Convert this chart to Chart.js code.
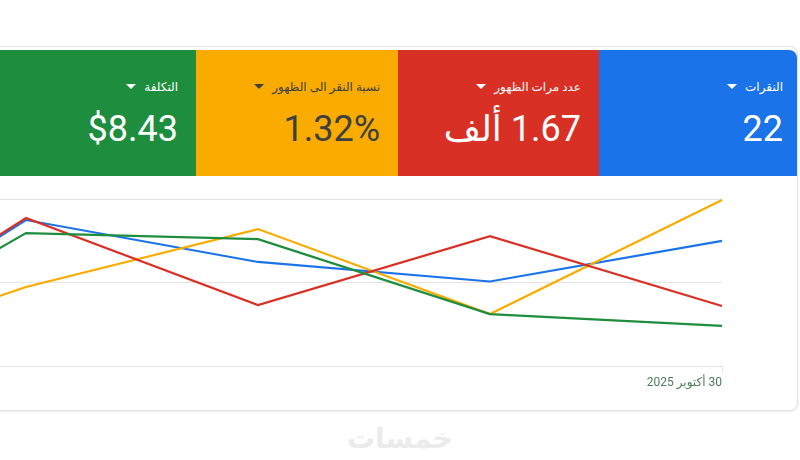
<!DOCTYPE html>
<html>
<head>
<meta charset="utf-8">
<script src="https://cdn.jsdelivr.net/npm/chart.js@4"></script>
<style>
  html, body { margin: 0; padding: 0; background: #fff; }
  body { width: 800px; height: 460px; position: relative; overflow: hidden; font-family: Roboto, "DejaVu Sans", sans-serif; }
  #panel {
    position: absolute; left: -10px; top: 46px; width: 808px; height: 365px;
    box-sizing: border-box; border: 1px solid #e3e4e6; border-radius: 8px;
    box-shadow: 0 1px 2px rgba(60,64,67,0.12);
    overflow: hidden; background: #fff;
  }
  .card { position: absolute; top: 3px; height: 126px; color: #fff; }
  .card .title {
    position: absolute; right: 18px; top: 29px; line-height: 16px; font-size: 12px;
    white-space: nowrap; direction: rtl;
  }
  .card .title .arrow {
    display: inline-block; width: 0; height: 0; margin-right: 8px; vertical-align: 2px;
    border-left: 5px solid transparent; border-right: 5px solid transparent; border-top: 5px solid currentColor;
  }
  .card .value {
    position: absolute; right: 18px; top: 58px; line-height: 42px; font-size: 36px;
    white-space: nowrap; direction: rtl;
  }
  .card.last .title, .card.last .value { right: 14px; }
  #mark {
    position: absolute; left: 0; width: 800px; top: 422px; text-align: center;
    font-family: "DejaVu Sans", sans-serif; font-size: 28px; font-weight: bold; color: #ebebeb;
  }
</style>
</head>
<body>
<div id="panel">
  <div class="card" style="left:0; width:205px; background:#1e8e3e;">
    <div class="title">التكلفة<span class="arrow"></span></div>
    <div class="value">$8.43</div>
  </div>
  <div class="card" style="left:205px; width:202px; background:#f9ab00; color:#3c4043;">
    <div class="title">نسبة النقر الى الظهور<span class="arrow"></span></div>
    <div class="value">1.32%</div>
  </div>
  <div class="card" style="left:407px; width:201px; background:#d93025;">
    <div class="title">عدد مرات الظهور<span class="arrow"></span></div>
    <div class="value">1.67 ألف</div>
  </div>
  <div class="card last" style="left:608px; width:198px; background:#1a73e8; border-top-right-radius:8px;">
    <div class="title">النقرات<span class="arrow"></span></div>
    <div class="value">22</div>
  </div>
</div>
<canvas id="trend" dir="rtl" width="960" height="210" style="position:absolute; left:-226px; top:180px;"></canvas>
<div id="mark" dir="rtl">خمسات</div>

<script>
// days shown on the x axis (only the last one gets a label)
const days = ["26 أكتوبر 2025", "27 أكتوبر 2025", "28 أكتوبر 2025", "29 أكتوبر 2025", "30 أكتوبر 2025"];

// each metric as a percent of its own axis height
const clicks      = [0, 87.4, 62.3, 50.6, 74.9];
const impressions = [0, 88.6, 36.5, 77.8, 35.9];
const ctr         = [0, 47.3, 82.0, 31.1, 99.4];
const cost        = [0, 79.6, 76.0, 31.1, 24.0];

const yTicks = [0, 50, 100];

const GRID = "#e3e3e3";

function line(label, data, color) {
  return {
    label: label,
    data: data,
    borderColor: color,
    backgroundColor: color,
    borderWidth: 2.2,
    pointRadius: 0,
    tension: 0,
    fill: false
  };
}

const ctx = document.getElementById("trend").getContext("2d");
new Chart(ctx, {
  type: "line",
  data: {
    labels: days,
    datasets: [
      line("التكلفة", cost, "#1e8e3e"),
      line("عدد مرات الظهور", impressions, "#d93025"),
      line("نسبة النقر الى الظهور", ctr, "#f9ab00"),
      line("النقرات", clicks, "#1a73e8")
    ]
  },
  options: {
    responsive: false,
    animation: false,
    events: [],
    layout: { padding: { left: 20, right: 12, top: 19, bottom: 0 } },
    plugins: {
      legend: { display: false },
      tooltip: { enabled: false }
    },
    scales: {
      x: {
        offset: false,
        border: { display: false },
        grid: {
          drawOnChartArea: false,
          drawTicks: true,
          tickLength: 7,
          tickColor: function(c) {
            return c.index === days.length - 1 ? GRID : "rgba(0,0,0,0)";
          }
        },
        ticks: {
          autoSkip: false,
          maxRotation: 0,
          align: "end",
          padding: 3,
          color: "#4f7d5c",
          font: { family: "Roboto, 'DejaVu Sans'", size: 12 },
          callback: function(value, index) {
            return index === days.length - 1 ? days[index] : "";
          }
        },
        afterFit: function(scale) { scale.height = 24; }
      },
      y: {
        min: 0,
        max: 100,
        border: { display: false },
        grid: { color: GRID, drawTicks: false },
        afterBuildTicks: function(scale) {
          scale.ticks = yTicks.map(v => ({ value: v }));
        },
        ticks: { display: false },
        afterFit: function(scale) { scale.width = 0; }
      }
    }
  }
});
</script>
</body>
</html>
